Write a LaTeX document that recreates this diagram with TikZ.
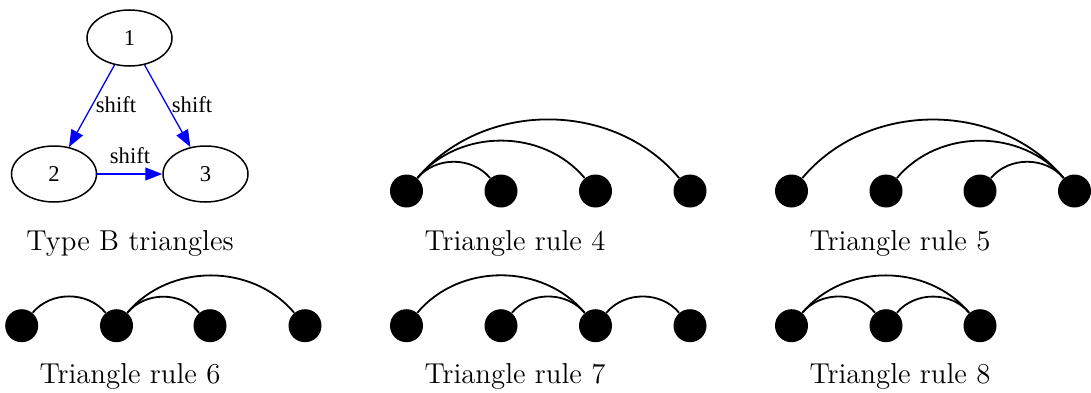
\documentclass[tikz,border=0pt]{standalone}
\usepackage{fontspec}
\newfontfamily\gvfont{Liberation Serif}
\usetikzlibrary{shapes.geometric,arrows.meta}
\tikzset{
  dot/.style={circle,fill=black,inner sep=0pt,minimum size=16.5pt},
  arcline/.style={line width=0.9pt,out=50,in=130},
  ell/.style={ellipse,draw,line width=0.75pt,minimum width=42.5pt,minimum height=28pt,inner sep=0pt,font=\gvfont\fontsize{11.3}{13}\selectfont},
  gvedge/.style={draw=blue,line width=0.65pt,-{Triangle[length=8.5pt,width=6.5pt,fill=blue]}},
  gvlab/.style={font=\gvfont\fontsize{11.3}{13}\selectfont,inner sep=0pt},
  captext/.style={font=\Large,anchor=base,inner sep=0pt}
}
\begin{document}
\begin{tikzpicture}[x=0.5pt,y=0.5pt]
\useasboundingbox (0,0) rectangle (1091,392);
% Type B triangles
\node[ell] (g1) at (129.5,354) {1};
\node[ell] (g2) at (54,218) {2};
\node[ell] (g3) at (205.5,218) {3};
\draw[gvedge] (g1) -- (g2);
\draw[gvedge] (g1) -- (g3);
\draw[gvedge] (g2) -- (g3);
\node[gvlab] (l12) at (116,287) {shift};
\node[gvlab] (l13) at (192,287) {shift};
\node[gvlab] (l23) at (130,236) {shift};
\node[captext] (c0) at (130,142) {Type B triangles};
% Rule 4
\node[dot] (a1) at (406.5,201) {};
\node[dot] (a2) at (501,201) {};
\node[dot] (a3) at (595.5,201) {};
\node[dot] (a4) at (690,201) {};
\draw[arcline] (a1) to (a2);
\draw[arcline] (a1) to (a3);
\draw[arcline] (a1) to (a4);
\node[captext] (c4) at (515,142) {Triangle rule 4};
% Rule 5
\node[dot] (b1) at (791.5,201) {};
\node[dot] (b2) at (886,201) {};
\node[dot] (b3) at (980,201) {};
\node[dot] (b4) at (1074.5,201) {};
\draw[arcline] (b1) to (b4);
\draw[arcline] (b2) to (b4);
\draw[arcline] (b3) to (b4);
\node[captext] (c5) at (900,142) {Triangle rule 5};
% Rule 6
\node[dot] (d1) at (21.7,66.3) {};
\node[dot] (d2) at (116.5,66.3) {};
\node[dot] (d3) at (210,66.3) {};
\node[dot] (d4) at (305,66.3) {};
\draw[arcline] (d1) to (d2);
\draw[arcline] (d2) to (d3);
\draw[arcline] (d2) to (d4);
\node[captext] (c6) at (130,9) {Triangle rule 6};
% Rule 7
\node[dot] (e1) at (406.5,66.3) {};
\node[dot] (e2) at (501,66.3) {};
\node[dot] (e3) at (595.5,66.3) {};
\node[dot] (e4) at (690,66.3) {};
\draw[arcline] (e1) to (e3);
\draw[arcline] (e2) to (e3);
\draw[arcline] (e3) to (e4);
\node[captext] (c7) at (515,9) {Triangle rule 7};
% Rule 8
\node[dot] (f1) at (791.5,66.3) {};
\node[dot] (f2) at (886,66.3) {};
\node[dot] (f3) at (980,66.3) {};
\draw[arcline] (f1) to (f2);
\draw[arcline] (f2) to (f3);
\draw[arcline] (f1) to (f3);
\node[captext] (c8) at (900,9) {Triangle rule 8};
\end{tikzpicture}
\end{document}
